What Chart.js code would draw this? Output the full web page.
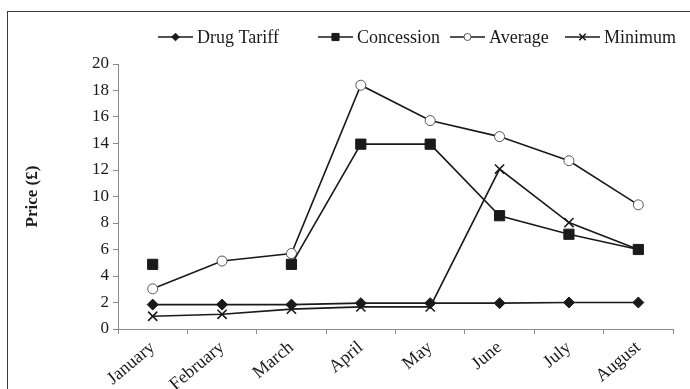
<!DOCTYPE html>
<html>
<head>
<meta charset="utf-8">
<script src="https://cdn.jsdelivr.net/npm/chart.js@4/dist/chart.umd.min.js"></script>
<style>
  html, body { margin: 0; padding: 0; background: #fff; }
  #wrap { position: relative; width: 690px; height: 389px; overflow: hidden; }
  #frame { position: absolute; left: 7px; top: 11px; width: 720px; height: 420px;
           border-left: 1px solid #3a3a3a; border-top: 1px solid #3a3a3a; }
  canvas { position: absolute; left: 0; top: 0; }
</style>
</head>
<body>
<div id="wrap">
  <div id="frame"></div>
  <canvas id="c" width="690" height="389"></canvas>
</div>
<script>
// Monthly prices (£)
const months = ['January', 'February', 'March', 'April', 'May', 'June', 'July', 'August'];
const drugTariff = [1.84, 1.84, 1.84, 1.95, 1.95, 1.95, 2.0, 2.0];
const concession = [4.88, null, 4.88, 13.95, 13.95, 8.55, 7.15, 6.0];
const average    = [3.03, 5.13, 5.7, 18.4, 15.73, 14.52, 12.7, 9.37];
const minimum    = [0.96, 1.11, 1.5, 1.67, 1.67, 12.07, 8.03, 6.0];
const yTicks = [0, 2, 4, 6, 8, 10, 12, 14, 16, 18, 20];

const FONT = '"Liberation Serif", "Times New Roman", serif';
const INK = '#1a1a1a';
const AXIS = '#8a8a8a';

const seriesStyles = [
  { label: 'Drug Tariff', data: drugTariff, pointStyle: 'rectRot', pointRadius: 5.5,
    backgroundColor: INK, pointBorderColor: INK, pointBorderWidth: 1 },
  { label: 'Concession', data: concession, pointStyle: 'rect', pointRadius: 7.2,
    backgroundColor: INK, pointBorderColor: INK, pointBorderWidth: 1 },
  { label: 'Average', data: average, pointStyle: 'circle', pointRadius: 5,
    backgroundColor: '#ffffff', pointBorderColor: '#555', pointBorderWidth: 1 },
  { label: 'Minimum', data: minimum, pointStyle: 'crossRot', pointRadius: 6.5,
    backgroundColor: INK, pointBorderColor: INK, pointBorderWidth: 1.6 }
];

const datasets = seriesStyles.map(s => ({
  label: s.label,
  data: s.data,
  borderColor: INK,
  borderWidth: 1.6,
  pointStyle: s.pointStyle,
  pointRadius: s.pointRadius,
  pointHoverRadius: s.pointRadius,
  pointBackgroundColor: s.backgroundColor,
  pointBorderColor: s.pointBorderColor,
  pointBorderWidth: s.pointBorderWidth,
  spanGaps: false,
  tension: 0,
  fill: false
}));

// Legend laid out in one row: a short line with the series marker, then the name
const legendStarts = [158, 318, 450, 565];
const legendPlugin = {
  id: 'lineLegend',
  afterDraw(chart) {
    const ctx = chart.ctx;
    const y = 37;
    const lineLen = 35;
    ctx.save();
    ctx.font = '18px ' + FONT;
    ctx.textBaseline = 'middle';
    ctx.textAlign = 'left';
    chart.data.datasets.forEach((ds, i) => {
      const x0 = legendStarts[i];
      ctx.strokeStyle = INK;
      ctx.lineWidth = 1.6;
      ctx.beginPath();
      ctx.moveTo(x0, y);
      ctx.lineTo(x0 + lineLen, y);
      ctx.stroke();
      ctx.fillStyle = ds.pointBackgroundColor;
      ctx.strokeStyle = ds.pointBorderColor;
      ctx.lineWidth = ds.pointBorderWidth;
      Chart.helpers.drawPoint(ctx, {
        pointStyle: ds.pointStyle,
        rotation: 0,
        radius: ds.pointRadius * 0.7,
        borderWidth: ds.pointBorderWidth
      }, x0 + lineLen / 2, y);
      ctx.fillStyle = INK;
      ctx.fillText(ds.label, x0 + lineLen + 4, y + 1);
    });
    ctx.restore();
  }
};

new Chart(document.getElementById('c'), {
  type: 'line',
  data: { labels: months, datasets },
  plugins: [legendPlugin],
  options: {
    responsive: false,
    animation: false,
    events: [],
    layout: { padding: { left: 0, top: 64, right: 17, bottom: 0 } },
    plugins: { legend: { display: false }, tooltip: { enabled: false } },
    scales: {
      x: {
        type: 'category',
        offset: true,
        afterFit: s => { s.height = 60; },
        grid: { display: true, offset: true, drawOnChartArea: false, drawTicks: true,
                tickLength: 5, color: AXIS, lineWidth: 1 },
        border: { display: true, color: AXIS, width: 1 },
        ticks: { color: INK, font: { family: FONT, size: 18 }, maxRotation: 40,
                 minRotation: 40, padding: 3, autoSkip: false }
      },
      y: {
        min: 0,
        max: 20,
        afterFit: s => { s.width = 118; },
        afterBuildTicks: s => { s.ticks = yTicks.map(v => ({ value: v })); },
        grid: { display: true, drawOnChartArea: false, drawTicks: true,
                tickLength: 5, color: AXIS, lineWidth: 1 },
        border: { display: true, color: AXIS, width: 1 },
        ticks: { color: INK, font: { family: FONT, size: 17 }, padding: 4 },
        title: { display: true, text: 'Price (£)', color: INK,
                 font: { family: FONT, size: 17, weight: 'bold' },
                 padding: { top: 22, bottom: 0 } }
      }
    }
  }
});
</script>
</body>
</html>
